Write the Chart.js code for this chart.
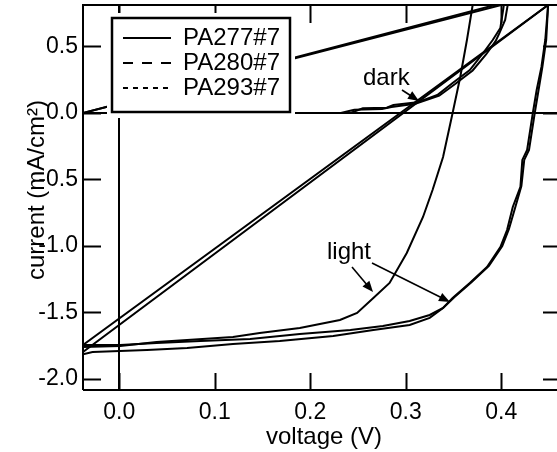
<!DOCTYPE html>
<html>
<head>
<meta charset="utf-8">
<script src="https://cdn.jsdelivr.net/npm/chart.js@4.4.1/dist/chart.umd.min.js"></script>
<style>
  html, body { margin: 0; padding: 0; background: #fff; }
  #wrap { width: 557px; height: 452px; }
</style>
</head>
<body>
<div id="wrap"><canvas id="ivChart" width="557" height="452"></canvas></div>
<script>
// ----- DATA -----
const sampleNames = ["PA277#7", "PA280#7", "PA293#7"];
const xTicks = [0.0, 0.1, 0.2, 0.3, 0.4];
const yTicks = [-2.0, -1.5, -1.0, -0.5, 0.0, 0.5];

// dark curves (last point = return to the start of the sweep)
const darkA_V = [-0.038, 0.10, 0.242, 0.255, 0.280, 0.287, 0.312, 0.333, 0.349, 0.367, 0.381, 0.391, 0.399, 0.402, 0.403, -0.038];
const darkA_I = [0.0, 0.0, 0.0, 0.035, 0.040, 0.060, 0.080, 0.135, 0.226, 0.323, 0.451, 0.549, 0.639, 0.780, 0.830, 0.0];
const darkB_V = [-0.038, 0.10, 0.232, 0.246, 0.275, 0.285, 0.310, 0.335, 0.352, 0.370, 0.384, 0.394, 0.398, 0.404, 0.407, -0.038];
const darkB_I = [0.0, 0.0, 0.0, 0.025, 0.030, 0.045, 0.070, 0.130, 0.220, 0.320, 0.440, 0.540, 0.600, 0.700, 0.825, 0.0];

// light curves
const lightA_V = [-0.038, 0.001, 0.039, 0.119, 0.147, 0.189, 0.231, 0.249, 0.266, 0.283, 0.301, 0.318, 0.328, 0.339, 0.349, 0.357, 0.364, 0.370, 0.373];
const lightA_I = [-1.759, -1.752, -1.722, -1.684, -1.654, -1.617, -1.556, -1.504, -1.391, -1.278, -1.053, -0.782, -0.579, -0.331, 0.0, 0.271, 0.549, 0.812, 1.0];
const lightB_V = [-0.038, 0.001, 0.039, 0.085, 0.137, 0.189, 0.242, 0.276, 0.304, 0.325, 0.339, 0.349, 0.367, 0.385, 0.399, 0.406, 0.412, 0.420, 0.422, 0.427, 0.433, 0.437, 0.442, 0.446, 0.449, -0.038];
const lightB_I = [-1.744, -1.744, -1.729, -1.714, -1.699, -1.662, -1.632, -1.602, -1.564, -1.519, -1.466, -1.391, -1.278, -1.158, -1.008, -0.880, -0.707, -0.556, -0.353, -0.278, 0.0, 0.173, 0.346, 0.549, 0.812, -1.744];
const lightC_V = [-0.038, -0.028, 0.029, 0.071, 0.119, 0.168, 0.224, 0.266, 0.304, 0.325, 0.339, 0.351, 0.369, 0.387, 0.401, 0.408, 0.415, 0.421, 0.424, 0.429, 0.435, 0.439, 0.443, 0.447, 0.449, -0.038];
const lightC_I = [-1.815, -1.797, -1.782, -1.767, -1.737, -1.714, -1.677, -1.632, -1.594, -1.541, -1.466, -1.383, -1.271, -1.150, -1.000, -0.872, -0.699, -0.549, -0.353, -0.278, 0.0, 0.173, 0.346, 0.549, 0.812, -1.797];

const FONT = "'Liberation Sans', Arial, Helvetica, sans-serif";

function toPoints(vs, is) {
  return vs.map((v, k) => ({ x: v, y: is[k] }));
}

function curve(label, vs, is) {
  return {
    label,
    data: toPoints(vs, is),
    showLine: true,
    borderColor: "#000",
    borderWidth: 2,
    pointRadius: 0,
    tension: 0
  };
}

function isZero(v) { return Math.abs(v) < 1e-9; }

// arrow with filled head
function arrow(c, x1, y1, x2, y2) {
  const a = Math.atan2(y2 - y1, x2 - x1);
  const len = 11, half = 4.5;
  c.beginPath();
  c.moveTo(x1, y1);
  c.lineTo(x2 - Math.cos(a) * len * 0.8, y2 - Math.sin(a) * len * 0.8);
  c.stroke();
  c.beginPath();
  c.moveTo(x2, y2);
  c.lineTo(x2 - Math.cos(a) * len + Math.sin(a) * half, y2 - Math.sin(a) * len - Math.cos(a) * half);
  c.lineTo(x2 - Math.cos(a) * len - Math.sin(a) * half, y2 - Math.sin(a) * len + Math.cos(a) * half);
  c.closePath();
  c.fill();
}

// frame, inside ticks, legend, labels
const igorStyle = {
  id: "igorStyle",
  afterDatasetsDraw(chart) {
    const c = chart.ctx;
    const a = chart.chartArea;
    const xs = chart.scales.x, ys = chart.scales.y;
    c.save();
    c.strokeStyle = "#000";
    c.fillStyle = "#000";
    c.lineWidth = 2;

    // frame (right side falls just outside the canvas)
    c.beginPath();
    c.moveTo(a.left, a.bottom); c.lineTo(a.left, a.top);
    c.lineTo(a.right + 2, a.top);
    c.moveTo(a.left, a.bottom); c.lineTo(a.right + 2, a.bottom);
    c.stroke();

    // inside ticks
    c.beginPath();
    xTicks.forEach(v => {
      const px = Math.round(xs.getPixelForValue(v)) + 0.5;
      c.moveTo(px, a.bottom); c.lineTo(px, a.bottom - 17);
      c.moveTo(px, a.top); c.lineTo(px, a.top + 18);
    });
    yTicks.forEach(v => {
      const py = Math.round(ys.getPixelForValue(v)) + 0.5;
      c.moveTo(a.left, py); c.lineTo(a.left + 18, py);
      c.moveTo(a.right + 4, py); c.lineTo(a.right - 14, py);
    });
    c.stroke();

    // legend
    c.fillStyle = "#fff";
    c.fillRect(107, 13, 188, 105);
    c.lineWidth = 2.5;
    c.strokeRect(112, 18, 178, 94);
    c.fillStyle = "#000";
    c.lineWidth = 2;
    const dashes = [[], [10, 9], [5, 5]];
    c.font = "24px " + FONT;
    c.textAlign = "left";
    c.textBaseline = "middle";
    sampleNames.forEach((name, k) => {
      const y = 38 + k * 25;
      c.setLineDash(dashes[k]);
      c.beginPath();
      c.moveTo(123, y); c.lineTo(171, y);
      c.stroke();
      c.setLineDash([]);
      c.fillText(name, 183, y);
    });

    // annotations
    c.textBaseline = "alphabetic";
    c.fillText("dark", 363, 85);
    c.fillText("light", 327, 259);
    c.lineWidth = 1.6;
    arrow(c, 402, 90, 419, 101);
    arrow(c, 352, 267, 373, 292);
    arrow(c, 372, 263, 450, 302);

    // axis titles
    c.textAlign = "center";
    c.fillText("voltage (V)", 324, 444);
    c.translate(44, 190);
    c.rotate(-Math.PI / 2);
    c.fillText("current (mA/cm\u00B2)", 0, 0);
    c.restore();
  }
};

const ctx = document.getElementById("ivChart").getContext("2d");

new Chart(ctx, {
  type: "scatter",
  data: {
    datasets: [
      curve(sampleNames[0] + " dark", darkA_V, darkA_I),
      curve(sampleNames[1] + " dark", darkB_V, darkB_I),
      curve(sampleNames[0] + " light", lightA_V, lightA_I),
      curve(sampleNames[1] + " light", lightB_V, lightB_I),
      curve(sampleNames[2] + " light", lightC_V, lightC_I)
    ]
  },
  options: {
    responsive: false,
    animation: false,
    layout: { padding: { top: 5, right: 0, left: 0, bottom: 0 } },
    plugins: { legend: { display: false }, tooltip: { enabled: false } },
    scales: {
      x: {
        type: "linear",
        min: -0.038,
        max: 0.4583,
        afterBuildTicks: s => { s.ticks = xTicks.map(v => ({ value: v })); },
        afterFit: s => { s.height = 62; s.paddingLeft = 0; s.paddingRight = 0; },
        border: { display: false },
        grid: {
          drawTicks: false,
          color: c => (c.tick && isZero(c.tick.value) ? "#000" : "rgba(0,0,0,0)"),
          lineWidth: 2
        },
        ticks: {
          color: "#000",
          padding: 9,
          font: { family: FONT, size: 23 },
          callback: v => v.toFixed(1)
        }
      },
      y: {
        type: "linear",
        min: -2.083,
        max: 0.812,
        afterBuildTicks: s => { s.ticks = yTicks.map(v => ({ value: v })); },
        afterFit: s => { s.width = 83; s.paddingTop = 0; s.paddingBottom = 0; },
        border: { display: false },
        grid: {
          drawTicks: false,
          color: c => (c.tick && isZero(c.tick.value) ? "#000" : "rgba(0,0,0,0)"),
          lineWidth: 2
        },
        ticks: {
          color: "#000",
          padding: 5,
          font: { family: FONT, size: 23 },
          callback: v => v.toFixed(1)
        }
      }
    }
  },
  plugins: [igorStyle]
});
</script>
</body>
</html>
